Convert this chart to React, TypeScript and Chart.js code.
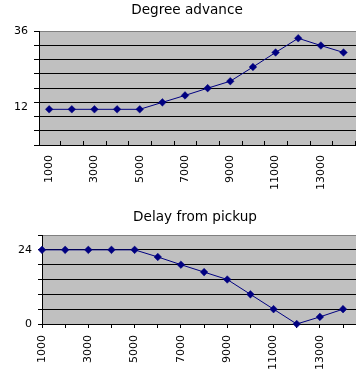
import { useEffect, useRef } from "react";
import { Chart, registerables } from "chart.js";

Chart.register(...registerables);

const RPM = [1000, 2000, 3000, 4000, 5000, 6000, 7000, 8000, 9000, 10000, 11000, 12000, 13000, 14000];
const ADVANCE = [11.3, 11.3, 11.3, 11.3, 11.3, 13.5, 15.7, 18, 20.2, 24.7, 29.3, 33.8, 31.5, 29.3];
const DELAY = [24, 24, 24, 24, 24, 21.7, 19.2, 16.8, 14.4, 9.6, 4.8, 0, 2.3, 4.8];
const X_LABELS = [1000, 3000, 5000, 7000, 9000, 11000, 13000];
const ADVANCE_GRID = [0, 4.5, 9, 13.5, 18, 22.5, 27, 31.5, 36];
const ADVANCE_LABELS = [12, 36];
const DELAY_GRID = [0, 4.8, 9.6, 14.4, 19.2, 24, 28.8];
const DELAY_LABELS = [0, 24];

const FONT = "'DejaVu Sans', sans-serif";
const LINE = "#000080";
const CLEAR = "rgba(0,0,0,0)";

const plotBg = {
  id: "plotBg",
  beforeDraw(chart: any) {
    const { ctx, chartArea: a } = chart;
    ctx.save();
    ctx.fillStyle = "#C0C0C0";
    ctx.fillRect(a.left, a.top, a.right - a.left, a.bottom - a.top);
    ctx.restore();
  },
};

const innerTicks = {
  id: "innerTicks",
  afterDraw(chart: any) {
    const opts = chart.options.plugins.innerTicks;
    if (!opts || !opts.enabled) return;
    const { ctx, chartArea: a } = chart;
    const x = chart.scales.x;
    ctx.save();
    ctx.strokeStyle = "#000";
    ctx.lineWidth = 1;
    ctx.beginPath();
    RPM.forEach((v) => {
      const px = Math.round(x.getPixelForValue(v + 500)) + 0.5;
      ctx.moveTo(px, a.bottom);
      ctx.lineTo(px, a.bottom - 4);
    });
    ctx.stroke();
    ctx.restore();
  },
};

function makeConfig(opts: {
  title: string;
  values: number[];
  grid: number[];
  labels: number[];
  yMax: number;
  xMin: number;
  xMax: number;
  yWidth: number;
  xHeight: number;
  titlePad: { top: number; bottom: number };
  inner: boolean;
  yTickLen: number;
  xPad: number;
}) {
  const yTicks = Array.from(new Set([...opts.grid, ...opts.labels])).sort((a, b) => a - b);
  return {
    type: "line" as const,
    data: {
      datasets: [
        {
          data: RPM.map((x, i) => ({ x, y: opts.values[i] })),
          borderColor: LINE,
          backgroundColor: LINE,
          borderWidth: 1,
          pointStyle: "rectRot",
          pointRadius: 3.8,
          pointBackgroundColor: LINE,
          pointBorderColor: LINE,
          pointBorderWidth: 0.5,
          tension: 0,
          fill: false,
          clip: false as any,
        },
      ],
    },
    options: {
      animation: false as const,
      responsive: false,
      devicePixelRatio: 1,
      layout: { padding: 0 },
      events: [],
      plugins: {
        legend: { display: false },
        tooltip: { enabled: false },
        innerTicks: { enabled: opts.inner },
        title: {
          display: true,
          text: opts.title,
          color: "#000",
          font: { family: FONT, size: 13.6, weight: "normal" as const, lineHeight: 1.2 },
          padding: opts.titlePad,
        },
      } as any,
      scales: {
        x: {
          type: "linear" as const,
          min: opts.xMin,
          max: opts.xMax,
          afterBuildTicks: (s: any) => {
            s.ticks = RPM.map((v) => ({ value: v }));
          },
          afterFit: (s: any) => {
            s.height = opts.xHeight;
          },
          ticks: {
            autoSkip: false,
            minRotation: 90,
            maxRotation: 90,
            padding: opts.xPad,
            color: "#000",
            font: { family: FONT, size: 11 },
            callback: (v: any) => (X_LABELS.includes(Number(v)) ? String(v) : ""),
          },
          grid: {
            display: true,
            drawOnChartArea: false,
            drawTicks: !opts.inner,
            tickLength: 4,
            color: "#000",
            tickColor: "#000",
          },
          border: { display: true, color: "#000", width: 1 },
        },
        y: {
          type: "linear" as const,
          min: 0,
          max: opts.yMax,
          afterBuildTicks: (s: any) => {
            s.ticks = yTicks.map((v) => ({ value: v }));
          },
          afterFit: (s: any) => {
            s.width = opts.yWidth;
          },
          ticks: {
            autoSkip: false,
            padding: 6,
            color: "#000",
            font: { family: FONT, size: 11 },
            callback: (v: any) => (opts.labels.includes(Number(v)) ? String(v) : ""),
          },
          grid: {
            display: true,
            drawTicks: true,
            tickLength: opts.yTickLen,
            lineWidth: 1,
            color: (c: any) => {
              const v = c.tick ? c.tick.value : 0;
              if (!opts.grid.includes(v)) return CLEAR;
              if (v === opts.yMax) return "#808080";
              return "#000";
            },
            tickColor: (c: any) => {
              const v = c.tick ? c.tick.value : 0;
              return opts.grid.includes(v) ? "#000" : CLEAR;
            },
          },
          border: { display: true, color: "#000", width: 1 },
        },
      },
    },
    plugins: [plotBg, innerTicks],
  };
}

function ChartCanvas(props: { config: any; width: number; height: number; top: number }) {
  const ref = useRef<HTMLCanvasElement | null>(null);
  useEffect(() => {
    if (!ref.current) return;
    const chart = new Chart(ref.current, props.config);
    return () => chart.destroy();
  }, []);
  return (
    <canvas
      ref={ref}
      width={props.width}
      height={props.height}
      style={{ position: "absolute", left: 0, top: props.top, width: props.width, height: props.height, display: "block" }}
    />
  );
}

export default function App() {
  const topConfig = makeConfig({
    title: "Degree advance",
    values: ADVANCE,
    grid: ADVANCE_GRID,
    labels: ADVANCE_LABELS,
    yMax: 36,
    xMin: 551,
    xMax: 15148,
    yWidth: 39,
    xHeight: 45,
    titlePad: { top: 2, bottom: 13 },
    inner: true,
    yTickLen: 5,
    xPad: 10,
  });
  const bottomConfig = makeConfig({
    title: "Delay from pickup",
    values: DELAY,
    grid: DELAY_GRID,
    labels: DELAY_LABELS,
    yMax: 28.8,
    xMin: 1000,
    xMax: 15834,
    yWidth: 42,
    xHeight: 52,
    titlePad: { top: 19, bottom: 9.7 },
    inner: false,
    yTickLen: 4,
    xPad: 7,
  });
  return (
    <div style={{ position: "absolute", left: 0, top: 0, width: 356, height: 376, overflow: "hidden", background: "#fff" }}>
      <ChartCanvas config={topConfig} width={374} height={190} top={0} />
      <ChartCanvas config={bottomConfig} width={390} height={186} top={190} />
    </div>
  );
}
